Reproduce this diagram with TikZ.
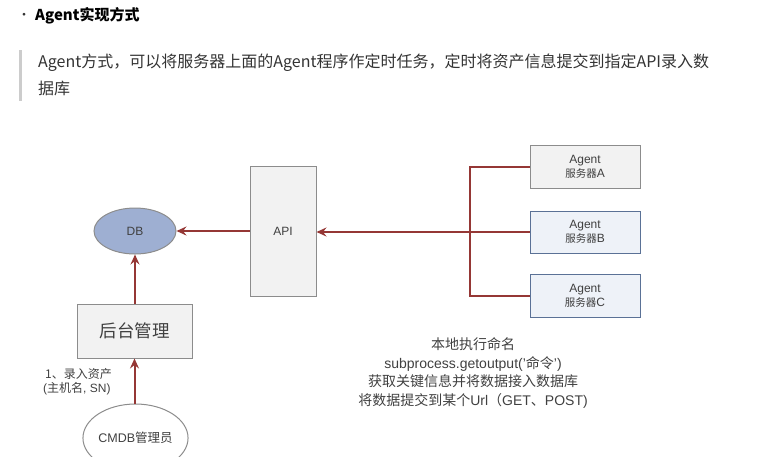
\documentclass[tikz,border=0pt]{standalone}
\usepackage{fontspec}
\setmainfont{Liberation Sans}
\newfontfamily\zh{Noto Sans CJK SC}
\usetikzlibrary{shapes.geometric,arrows.meta}
\definecolor{arrred}{HTML}{953735}
\definecolor{boxline}{HTML}{8C8C8C}
\definecolor{boxfill}{HTML}{F2F2F2}
\definecolor{bluefill}{HTML}{EEF2F8}
\definecolor{blueline}{HTML}{5A7196}
\definecolor{dbfill}{HTML}{9EAFD2}
\definecolor{txt}{HTML}{333333}
\definecolor{dtxt}{HTML}{404040}
\tikzset{
  graybox/.style={draw=boxline, fill=boxfill, line width=1pt, inner sep=0pt, text=dtxt},
  bluebox/.style={draw=blueline, fill=bluefill, line width=1pt, inner sep=0pt, text=dtxt},
  oval/.style={ellipse, draw=boxline, line width=1pt, inner sep=0pt, text=dtxt},
  conn/.style={draw=arrred, line width=2pt},
  arr/.style={conn, -{Stealth[length=10pt,width=9pt,inset=3.5pt]}},
  agentbox/.style={minimum width=110pt, align=center, font=\fontsize{12}{14}\selectfont},
}
\newcommand{\agzh}[1]{{\zh\fontsize{10.5}{14}\selectfont #1}}
\begin{document}
\begin{tikzpicture}[x=1pt,y=-1pt]
\useasboundingbox (0,0) rectangle (781,456);
\begin{scope}
\clip (0,0) rectangle (781,456);
% header
\node[anchor=west, text=txt, font=\zh\bfseries, inner sep=0pt] (bullet) at (19,16) {·};
\node[anchor=west, text=black, font=\zh\bfseries\fontsize{15}{17}\selectfont, inner sep=0pt] (title) at (35,16) {Agent实现方式};
\fill[black!20] (19,50) rectangle (22,101);
\node[anchor=west, text=txt, font=\zh\fontsize{16}{18}\selectfont, inner sep=0pt] (line1) at (38,63) {Agent方式，可以将服务器上面的Agent程序作定时任务，定时将资产信息提交到指定API录入数};
\node[anchor=west, text=txt, font=\zh\fontsize{16}{18}\selectfont, inner sep=0pt] (line2) at (38,88) {据库};

% nodes
\node[oval, fill=dbfill, minimum width=82pt, minimum height=46pt, font=\fontsize{12}{14}\selectfont] (db) at (135,231) {DB};
\node[graybox, minimum width=66pt, minimum height=130pt, font=\fontsize{12}{14}\selectfont] (api) at (283,231) {API};
\node[graybox, agentbox, minimum height=43pt] (agA) at (585,166.5) {Agent\\\agzh{服务器}A};
\node[bluebox, agentbox, minimum height=42pt] (agB) at (585,232) {Agent\\\agzh{服务器}B};
\node[bluebox, agentbox, minimum height=43pt] (agC) at (585,295.5) {Agent\\\agzh{服务器}C};
\node[graybox, minimum width=115pt, minimum height=54pt, font=\zh\fontsize{17.5}{20}\selectfont] (admin) at (134.5,331) {后台管理};
\node[oval, fill=white, minimum width=95pt, minimum height=68pt, font=\fontsize{12.5}{14}\selectfont] (cmdb) at (135.5,438) {CMDB{\zh 管理员}};

% connectors
\coordinate (bus) at (470,232);
\coordinate (busA) at (470,166.5);
\coordinate (busC) at (470,295.5);
\draw[conn] (agA.west) -- (busA) -- (busC) -- (agC.west);
\draw[conn] (agB.west) -- (bus);
\draw[arr] (bus) -- (api.east |- bus);
\draw[arr] (api.west |- db.east) -- (db.east);
\draw[arr] (admin.north -| db.south) -- (db.south);
\draw[arr] (cmdb.north -| admin.south) -- (admin.south);

% labels
\node[anchor=west, text=dtxt, font=\zh\fontsize{12}{13}\selectfont, inner sep=0pt] (lab1) at (45,374) {1、录入资产};
\node[anchor=west, text=dtxt, font=\fontsize{12}{13}\selectfont, inner sep=0pt] (lab2) at (43,389) {({\zh 主机名}, SN)};
\node[text=dtxt, align=center, font=\fontsize{14}{18.8}\selectfont, inner sep=0pt] (note) at (473,373) {{\zh 本地执行命名}\\subprocess.getoutput('{\zh 命令}')\\{\zh 获取关键信息并将数据接入数据库}\\{\zh 将数据提交到某个}Url{\zh （}GET{\zh 、}POST)};
\end{scope}
\end{tikzpicture}
\end{document}
